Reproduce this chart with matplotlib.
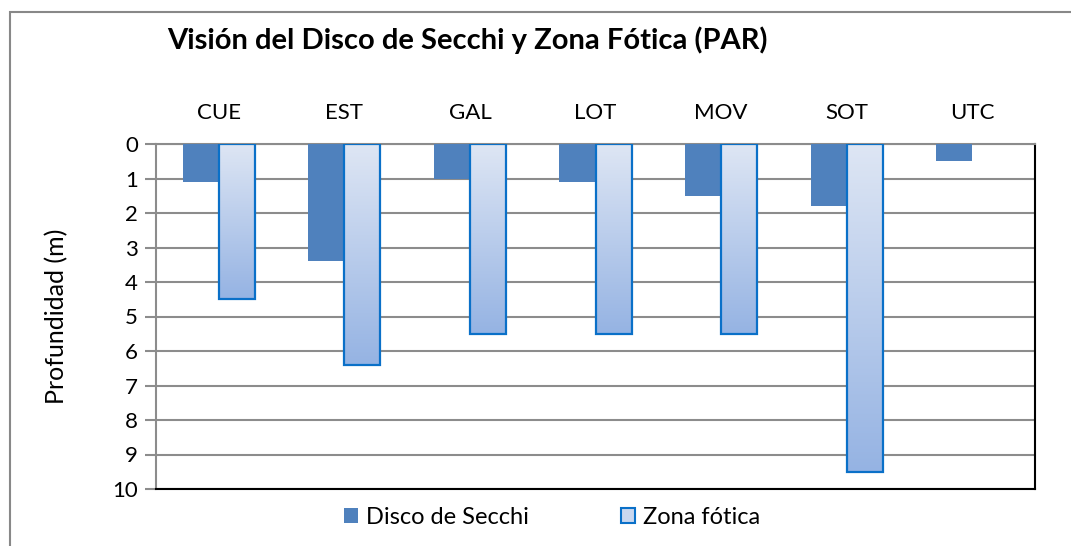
import matplotlib
matplotlib.use("Agg")
import matplotlib.pyplot as plt
import numpy as np
from matplotlib.colors import LinearSegmentedColormap
from matplotlib.patches import Rectangle, Patch

plt.rcParams['font.family'] = ['Lato', 'DejaVu Sans']

categories = ["CUE", "EST", "GAL", "LOT", "MOV", "SOT", "UTC"]
secchi = [1.1, 3.4, 1.0, 1.1, 1.5, 1.8, 0.5]
zona_fotica = [4.5, 6.4, 5.5, 5.5, 5.5, 9.5, np.nan]
yticks = list(range(0, 11))

fig = plt.figure(figsize=(10.71, 5.46), dpi=100)
# outer chart border
fig.patches.append(Rectangle((10/1071, -0.1), 1.2, 1 - 12/546 + 0.1, transform=fig.transFigure,
                             fill=False, edgecolor="#888888", linewidth=1.5))

ax = fig.add_axes([156/1071, 1-489/546, 879/1071, 345/546])
x = np.arange(len(categories))
w = 0.287

ax.bar(x - w/2, secchi, width=w, color="#4F81BD", edgecolor="none", zorder=3,
       label="Disco de Secchi")
zf = np.array(zona_fotica, dtype=float)
valid = ~np.isnan(zf)
zb = ax.bar(x[valid] + w/2, zf[valid], width=w, color="none",
            edgecolor="#0A70C8", linewidth=1.6, zorder=4, label="Zona fótica")

cmap = LinearSegmentedColormap.from_list("g", ["#DEE6F4", "#95B3E3"])
grad = np.linspace(0, 1, 256).reshape(-1, 1)
for rect, v in zip(zb.patches, zf[valid]):
    x0 = rect.get_x()
    im = ax.imshow(grad, cmap=cmap, aspect="auto",
                   extent=(x0, x0 + rect.get_width(), v, 0), origin="upper", zorder=3.5)
    im.set_clip_path(rect)

ax.set_xlim(-0.5, len(categories) - 0.5)
ax.set_ylim(10, 0)
ax.set_yticks(yticks)
ax.set_yticklabels([str(t) for t in yticks], fontsize=16)
ax.yaxis.grid(True, color="#8C8C8C", linewidth=1.5, zorder=1)
ax.set_axisbelow(True)
ax.tick_params(axis="y", direction="out", length=8, width=1.5, color="#8C8C8C", pad=5)

ax.xaxis.tick_top()
ax.set_xticks(x)
ax.set_xticklabels(categories, fontsize=16)
ax.tick_params(axis="x", length=0, pad=15)

for s in ["top", "left"]:
    ax.spines[s].set_color("#8C8C8C")
    ax.spines[s].set_linewidth(1.5)
for s in ["right", "bottom"]:
    ax.spines[s].set_color("black")
    ax.spines[s].set_linewidth(1.5)

fig.text(57/1071, 1-316/546, "Profundidad (m)", fontsize=18, rotation=90,
         ha="center", va="center")

fig.text(167/1071, 1-40/546, "Visión del Disco de Secchi y Zona Fótica (PAR)",
         fontsize=21, fontweight="bold", ha="left", va="center")

handles = [Patch(facecolor="#4F81BD", edgecolor="none", label="Disco de Secchi"),
           Patch(facecolor="#C9D7EF", edgecolor="#0A70C8", linewidth=1.5, label="Zona fótica")]
fig.legend(handles=handles, loc="center", bbox_to_anchor=(552/1071, 1-517/546), ncol=2,
           frameon=False, fontsize=17, handlelength=0.6, handleheight=0.6,
           handletextpad=0.35, columnspacing=3.9)

fig.savefig("out.png", dpi=100)
